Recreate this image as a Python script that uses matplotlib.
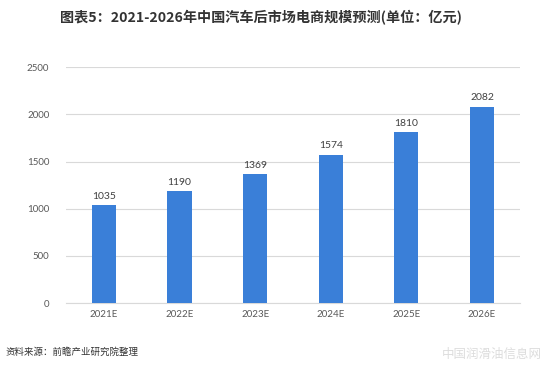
import matplotlib
matplotlib.use("Agg")
import matplotlib.pyplot as plt

plt.rcParams['font.family'] = ['Noto Sans CJK SC', 'DejaVu Sans']

categories = ["2021E", "2022E", "2023E", "2024E", "2025E", "2026E"]
values = [1035, 1190, 1369, 1574, 1810, 2082]
yticks = [0, 500, 1000, 1500, 2000, 2500]

fig = plt.figure(figsize=(5.5, 3.77), dpi=100)
ax = fig.add_axes([0.12, 0.196, 0.825, 0.626])

x = range(len(categories))
ax.bar(x, values, width=0.32, color="#3a7fd8", zorder=3)
for xi, v in zip(x, values):
    ax.text(xi, v + 45, str(v), ha="center", va="bottom", fontsize=7.5,
            color="#404040", family=["Lato", "DejaVu Sans"])

ax.set_xlim(-0.5, len(categories) - 0.5)
ax.set_ylim(0, 2500)
ax.set_yticks(yticks)
ax.set_xticks(list(x))
ax.set_xticklabels(categories)
ax.tick_params(axis="both", length=0, labelsize=7, labelcolor="#595959")
for lab in ax.get_xticklabels() + ax.get_yticklabels():
    lab.set_family(["Lato", "DejaVu Sans"])
ax.tick_params(axis="y", pad=12)
ax.tick_params(axis="x", pad=5)
ax.grid(axis="y", color="#d9d9d9", linewidth=0.8, zorder=0)
for s in ["top", "right", "left"]:
    ax.spines[s].set_visible(False)
ax.spines["bottom"].set_color("#d9d9d9")

fig.text(0.475, 0.952, "图表5：2021-2026年中国汽车后市场电商规模预测(单位：亿元)",
         ha="center", va="center", fontsize=10.2, fontweight="bold", color="#333333")
fig.text(0.01, 0.065, "资料来源：前瞻产业研究院整理", ha="left", va="center",
         fontsize=6.8, color="#333333")
fig.text(0.985, 0.06, "中国润滑油信息网", ha="right", va="center",
         fontsize=9, color="#dddddd")

fig.savefig("out.png", dpi=100)
